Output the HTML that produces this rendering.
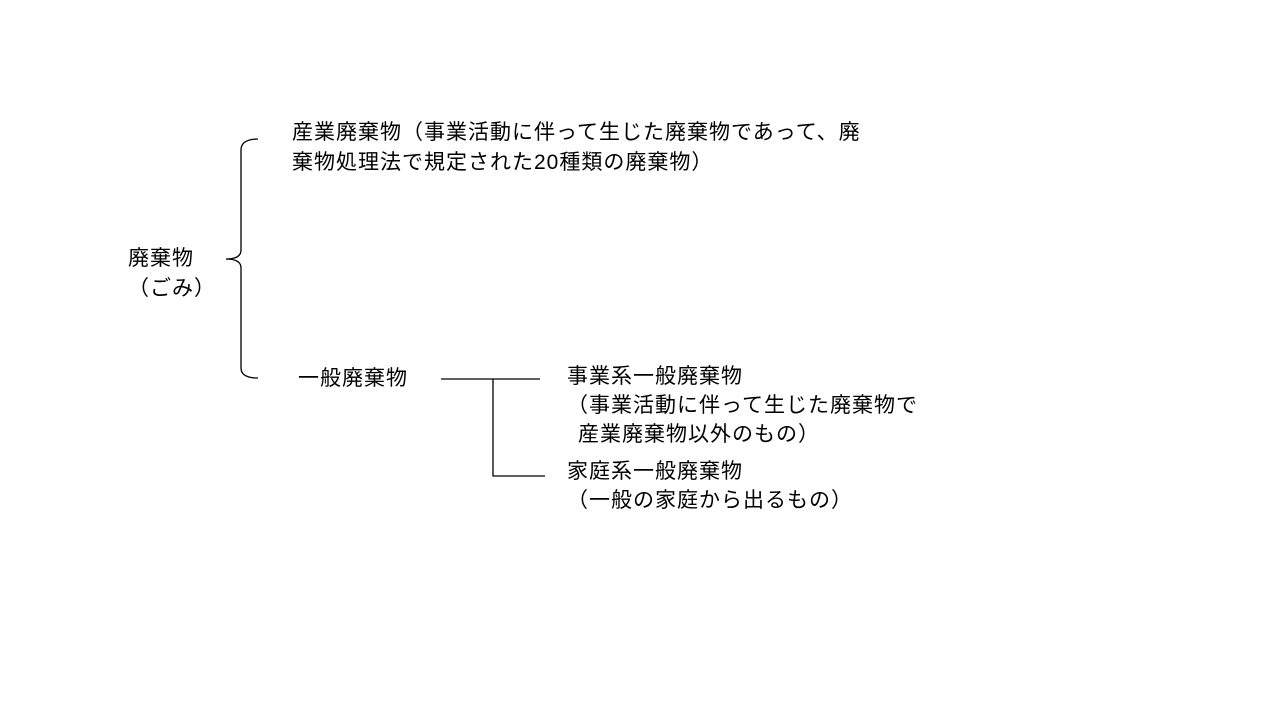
<!DOCTYPE html>
<html><head><meta charset="utf-8"><style>
body{margin:0;width:1280px;height:720px;background:#fff;position:relative;overflow:hidden;font-family:"Liberation Sans","Noto Sans CJK JP",sans-serif;color:#000}
.t{position:absolute;font-size:21px;line-height:30px;white-space:nowrap;letter-spacing:1px}
svg{position:absolute;left:0;top:0}
</style></head><body>
<svg width="1280" height="720">
<path d="M258,139 Q241,139 241,150 L241,250 Q241,259 226,259 Q241,259 241,268 L241,368 Q241,378 258,378" fill="none" stroke="#000" stroke-width="1.3"/>
<path d="M441,379 H540 M493,379 V476 H545" fill="none" stroke="#000" stroke-width="1.3"/>
</svg>
<div class="t" style="left:292px;top:118px">産業廃棄物（事業活動に伴って生じた廃棄物であって、廃</div>
<div class="t" style="left:292px;top:148px">棄物処理法で規定された20種類の廃棄物）</div>
<div class="t" style="left:128px;top:244px">廃棄物</div>
<div class="t" style="left:128px;top:274px">（ごみ）</div>
<div class="t" style="left:298px;top:364px">一般廃棄物</div>
<div class="t" style="left:567px;top:362px">事業系一般廃棄物</div>
<div class="t" style="left:567px;top:391px">（事業活動に伴って生じた廃棄物で</div>
<div class="t" style="left:578px;top:420px">産業廃棄物以外のもの）</div>
<div class="t" style="left:567px;top:457px">家庭系一般廃棄物</div>
<div class="t" style="left:567px;top:486px">（一般の家庭から出るもの）</div>
</body></html>
